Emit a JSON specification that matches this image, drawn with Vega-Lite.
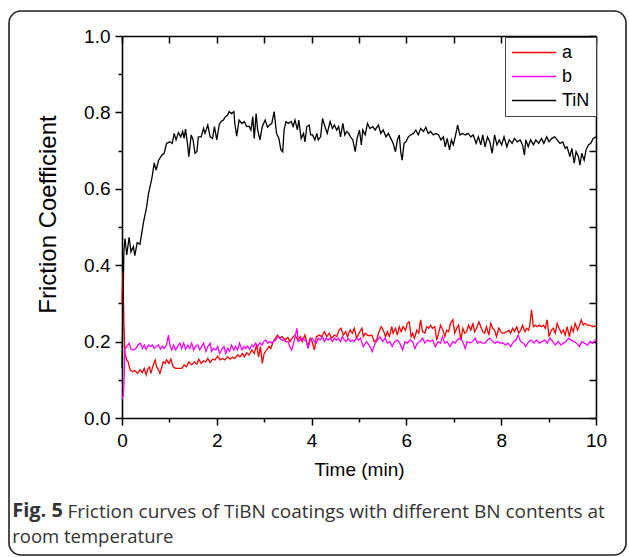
{
  "$schema": "https://vega.github.io/schema/vega-lite/v6.json",
  "width": 474,
  "height": 382,
  "autosize": "none",
  "padding": {"left": 122, "top": 36, "right": 33, "bottom": 139},
  "background": "white",
  "config": {"view": {"stroke": null}, "font": "Liberation Sans"},
  "title": {
    "text": "Fig. 5",
    "subtitle": "room temperature",
    "orient": "bottom",
    "anchor": "start",
    "frame": "bounds",
    "offset": -55,
    "dx": 4,
    "font": "Open Sans",
    "fontSize": 20,
    "fontWeight": "bold",
    "color": "#333",
    "subtitleFont": "Open Sans",
    "subtitleFontSize": 18.5,
    "subtitleColor": "#333",
    "subtitlePadding": 7
  },
  "datasets": {
    "tin": [
      {"t":0,"f":0.13},{"t":0.02,"f":0.30},{"t":0.04,"f":0.44},{"t":0.063,"f":0.47},{"t":0.1,"f":0.427},{"t":0.15,"f":0.473},{"t":0.19,"f":0.435},{"t":0.24,"f":0.449},{"t":0.27,"f":0.425},{"t":0.32,"f":0.459},{"t":0.38,"f":0.455},{"t":0.45,"f":0.51},{"t":0.52,"f":0.553},{"t":0.56,"f":0.588},{"t":0.63,"f":0.627},{"t":0.68,"f":0.668},{"t":0.72,"f":0.649},{"t":0.77,"f":0.674},{"t":0.84,"f":0.688},{"t":0.89,"f":0.693},{"t":0.94,"f":0.719},{"t":1.01,"f":0.723},{"t":1.06,"f":0.719},{"t":1.10,"f":0.745},{"t":1.14,"f":0.728},{"t":1.19,"f":0.747},{"t":1.24,"f":0.736},{"t":1.28,"f":0.75},{"t":1.31,"f":0.732},{"t":1.34,"f":0.756},{"t":1.39,"f":0.71},{"t":1.41,"f":0.684},{"t":1.46,"f":0.741},{"t":1.50,"f":0.728},{"t":1.54,"f":0.693},{"t":1.58,"f":0.697},{"t":1.61,"f":0.736},{"t":1.67,"f":0.736},{"t":1.72,"f":0.758},{"t":1.75,"f":0.745},{"t":1.81,"f":0.767},{"t":1.86,"f":0.736},{"t":1.91,"f":0.732},{"t":1.95,"f":0.763},{"t":2.0,"f":0.728},{"t":2.05,"f":0.767},{"t":2.09,"f":0.776},{"t":2.14,"f":0.78},{"t":2.17,"f":0.787},{"t":2.23,"f":0.793},{"t":2.26,"f":0.802},{"t":2.31,"f":0.797},{"t":2.36,"f":0.802},{"t":2.38,"f":0.771},{"t":2.42,"f":0.738},{"t":2.47,"f":0.78},{"t":2.53,"f":0.771},{"t":2.58,"f":0.776},{"t":2.63,"f":0.763},{"t":2.68,"f":0.764},{"t":2.72,"f":0.754},{"t":2.76,"f":0.789},{"t":2.79,"f":0.732},{"t":2.83,"f":0.797},{"t":2.86,"f":0.756},{"t":2.91,"f":0.728},{"t":2.96,"f":0.763},{"t":3.02,"f":0.78},{"t":3.07,"f":0.761},{"t":3.11,"f":0.767},{"t":3.16,"f":0.771},{"t":3.21,"f":0.802},{"t":3.26,"f":0.745},{"t":3.31,"f":0.732},{"t":3.35,"f":0.703},{"t":3.39,"f":0.697},{"t":3.42,"f":0.754},{"t":3.46,"f":0.776},{"t":3.51,"f":0.771},{"t":3.57,"f":0.776},{"t":3.61,"f":0.763},{"t":3.65,"f":0.78},{"t":3.70,"f":0.754},{"t":3.73,"f":0.78},{"t":3.78,"f":0.732},{"t":3.83,"f":0.745},{"t":3.86,"f":0.723},{"t":3.90,"f":0.763},{"t":3.95,"f":0.767},{"t":3.98,"f":0.741},{"t":4.02,"f":0.741},{"t":4.07,"f":0.728},{"t":4.11,"f":0.745},{"t":4.14,"f":0.728},{"t":4.19,"f":0.736},{"t":4.23,"f":0.784},{"t":4.28,"f":0.763},{"t":4.33,"f":0.745},{"t":4.39,"f":0.776},{"t":4.44,"f":0.758},{"t":4.48,"f":0.767},{"t":4.53,"f":0.754},{"t":4.57,"f":0.763},{"t":4.61,"f":0.736},{"t":4.66,"f":0.771},{"t":4.70,"f":0.741},{"t":4.74,"f":0.75},{"t":4.78,"f":0.745},{"t":4.82,"f":0.736},{"t":4.87,"f":0.728},{"t":4.92,"f":0.697},{"t":4.96,"f":0.732},{"t":5.01,"f":0.754},{"t":5.05,"f":0.715},{"t":5.08,"f":0.754},{"t":5.13,"f":0.741},{"t":5.18,"f":0.771},{"t":5.23,"f":0.758},{"t":5.29,"f":0.763},{"t":5.34,"f":0.754},{"t":5.41,"f":0.767},{"t":5.46,"f":0.745},{"t":5.51,"f":0.754},{"t":5.57,"f":0.736},{"t":5.62,"f":0.745},{"t":5.67,"f":0.732},{"t":5.72,"f":0.719},{"t":5.77,"f":0.697},{"t":5.81,"f":0.728},{"t":5.85,"f":0.741},{"t":5.88,"f":0.697},{"t":5.91,"f":0.675},{"t":5.95,"f":0.719},{"t":5.99,"f":0.723},{"t":6.04,"f":0.736},{"t":6.09,"f":0.741},{"t":6.15,"f":0.745},{"t":6.20,"f":0.754},{"t":6.25,"f":0.741},{"t":6.30,"f":0.758},{"t":6.36,"f":0.75},{"t":6.41,"f":0.761},{"t":6.46,"f":0.745},{"t":6.51,"f":0.75},{"t":6.57,"f":0.741},{"t":6.62,"f":0.745},{"t":6.68,"f":0.741},{"t":6.73,"f":0.728},{"t":6.78,"f":0.736},{"t":6.82,"f":0.71},{"t":6.86,"f":0.732},{"t":6.91,"f":0.702},{"t":6.95,"f":0.728},{"t":6.99,"f":0.715},{"t":7.03,"f":0.736},{"t":7.08,"f":0.767},{"t":7.13,"f":0.741},{"t":7.19,"f":0.745},{"t":7.24,"f":0.741},{"t":7.30,"f":0.745},{"t":7.36,"f":0.736},{"t":7.41,"f":0.741},{"t":7.47,"f":0.719},{"t":7.52,"f":0.736},{"t":7.57,"f":0.715},{"t":7.61,"f":0.741},{"t":7.66,"f":0.71},{"t":7.71,"f":0.736},{"t":7.76,"f":0.723},{"t":7.81,"f":0.693},{"t":7.86,"f":0.741},{"t":7.91,"f":0.715},{"t":7.96,"f":0.728},{"t":8.01,"f":0.715},{"t":8.06,"f":0.736},{"t":8.12,"f":0.71},{"t":8.17,"f":0.728},{"t":8.23,"f":0.719},{"t":8.28,"f":0.732},{"t":8.34,"f":0.723},{"t":8.40,"f":0.728},{"t":8.45,"f":0.715},{"t":8.49,"f":0.688},{"t":8.52,"f":0.728},{"t":8.57,"f":0.71},{"t":8.62,"f":0.728},{"t":8.68,"f":0.715},{"t":8.73,"f":0.728},{"t":8.79,"f":0.719},{"t":8.85,"f":0.732},{"t":8.90,"f":0.719},{"t":8.96,"f":0.736},{"t":9.01,"f":0.723},{"t":9.07,"f":0.732},{"t":9.13,"f":0.736},{"t":9.18,"f":0.728},{"t":9.24,"f":0.719},{"t":9.30,"f":0.723},{"t":9.35,"f":0.706},{"t":9.39,"f":0.71},{"t":9.45,"f":0.684},{"t":9.49,"f":0.706},{"t":9.54,"f":0.667},{"t":9.58,"f":0.697},{"t":9.63,"f":0.684},{"t":9.66,"f":0.662},{"t":9.70,"f":0.693},{"t":9.75,"f":0.675},{"t":9.79,"f":0.702},{"t":9.84,"f":0.715},{"t":9.89,"f":0.719},{"t":9.94,"f":0.732},{"t":10.0,"f":0.736}
    ],
    "a": [
      {"t":0,"f":0.30},{"t":0.02,"f":0.38},{"t":0.04,"f":0.25},{"t":0.06,"f":0.17},{"t":0.1,"f":0.152},{"t":0.13,"f":0.147},{"t":0.17,"f":0.126},{"t":0.22,"f":0.121},{"t":0.27,"f":0.124},{"t":0.33,"f":0.117},{"t":0.38,"f":0.126},{"t":0.43,"f":0.119},{"t":0.47,"f":0.13},{"t":0.51,"f":0.113},{"t":0.54,"f":0.127},{"t":0.58,"f":0.134},{"t":0.61,"f":0.117},{"t":0.66,"f":0.139},{"t":0.70,"f":0.152},{"t":0.73,"f":0.134},{"t":0.77,"f":0.126},{"t":0.80,"f":0.117},{"t":0.84,"f":0.134},{"t":0.87,"f":0.147},{"t":0.91,"f":0.143},{"t":0.94,"f":0.152},{"t":0.99,"f":0.143},{"t":1.03,"f":0.154},{"t":1.08,"f":0.134},{"t":1.13,"f":0.13},{"t":1.19,"f":0.13},{"t":1.26,"f":0.13},{"t":1.31,"f":0.139},{"t":1.36,"f":0.134},{"t":1.41,"f":0.147},{"t":1.47,"f":0.139},{"t":1.53,"f":0.147},{"t":1.58,"f":0.141},{"t":1.62,"f":0.154},{"t":1.67,"f":0.143},{"t":1.72,"f":0.15},{"t":1.77,"f":0.147},{"t":1.81,"f":0.156},{"t":1.86,"f":0.145},{"t":1.91,"f":0.154},{"t":1.96,"f":0.152},{"t":2.02,"f":0.162},{"t":2.07,"f":0.152},{"t":2.12,"f":0.156},{"t":2.17,"f":0.152},{"t":2.23,"f":0.16},{"t":2.28,"f":0.154},{"t":2.33,"f":0.159},{"t":2.38,"f":0.156},{"t":2.44,"f":0.165},{"t":2.49,"f":0.16},{"t":2.54,"f":0.169},{"t":2.58,"f":0.16},{"t":2.63,"f":0.171},{"t":2.68,"f":0.165},{"t":2.74,"f":0.178},{"t":2.79,"f":0.169},{"t":2.84,"f":0.191},{"t":2.88,"f":0.16},{"t":2.92,"f":0.187},{"t":2.96,"f":0.143},{"t":3.00,"f":0.169},{"t":3.05,"f":0.178},{"t":3.10,"f":0.187},{"t":3.14,"f":0.182},{"t":3.19,"f":0.2},{"t":3.24,"f":0.209},{"t":3.28,"f":0.217},{"t":3.33,"f":0.209},{"t":3.38,"f":0.213},{"t":3.44,"f":0.204},{"t":3.50,"f":0.211},{"t":3.54,"f":0.2},{"t":3.59,"f":0.209},{"t":3.65,"f":0.217},{"t":3.71,"f":0.204},{"t":3.76,"f":0.213},{"t":3.80,"f":0.2},{"t":3.86,"f":0.217},{"t":3.92,"f":0.187},{"t":3.97,"f":0.209},{"t":4.01,"f":0.2},{"t":4.06,"f":0.178},{"t":4.10,"f":0.213},{"t":4.16,"f":0.217},{"t":4.21,"f":0.213},{"t":4.27,"f":0.226},{"t":4.32,"f":0.213},{"t":4.37,"f":0.222},{"t":4.42,"f":0.209},{"t":4.48,"f":0.217},{"t":4.53,"f":0.213},{"t":4.58,"f":0.23},{"t":4.62,"f":0.235},{"t":4.67,"f":0.217},{"t":4.72,"f":0.226},{"t":4.76,"f":0.213},{"t":4.81,"f":0.23},{"t":4.86,"f":0.222},{"t":4.90,"f":0.235},{"t":4.95,"f":0.209},{"t":5.00,"f":0.222},{"t":5.06,"f":0.235},{"t":5.09,"f":0.213},{"t":5.13,"f":0.222},{"t":5.18,"f":0.217},{"t":5.22,"f":0.215},{"t":5.27,"f":0.217},{"t":5.32,"f":0.2},{"t":5.37,"f":0.204},{"t":5.42,"f":0.226},{"t":5.47,"f":0.239},{"t":5.51,"f":0.23},{"t":5.56,"f":0.213},{"t":5.60,"f":0.226},{"t":5.64,"f":0.213},{"t":5.69,"f":0.239},{"t":5.72,"f":0.222},{"t":5.77,"f":0.235},{"t":5.81,"f":0.217},{"t":5.85,"f":0.239},{"t":5.89,"f":0.226},{"t":5.93,"f":0.239},{"t":5.98,"f":0.23},{"t":6.02,"f":0.248},{"t":6.06,"f":0.252},{"t":6.10,"f":0.213},{"t":6.13,"f":0.222},{"t":6.17,"f":0.209},{"t":6.22,"f":0.23},{"t":6.26,"f":0.222},{"t":6.30,"f":0.257},{"t":6.34,"f":0.226},{"t":6.39,"f":0.222},{"t":6.43,"f":0.239},{"t":6.47,"f":0.235},{"t":6.51,"f":0.243},{"t":6.55,"f":0.235},{"t":6.60,"f":0.239},{"t":6.64,"f":0.204},{"t":6.68,"f":0.222},{"t":6.72,"f":0.243},{"t":6.77,"f":0.23},{"t":6.81,"f":0.213},{"t":6.85,"f":0.23},{"t":6.89,"f":0.226},{"t":6.93,"f":0.248},{"t":6.98,"f":0.257},{"t":7.02,"f":0.222},{"t":7.06,"f":0.235},{"t":7.10,"f":0.243},{"t":7.15,"f":0.204},{"t":7.19,"f":0.235},{"t":7.23,"f":0.222},{"t":7.27,"f":0.226},{"t":7.31,"f":0.243},{"t":7.36,"f":0.23},{"t":7.40,"f":0.248},{"t":7.44,"f":0.226},{"t":7.48,"f":0.235},{"t":7.53,"f":0.252},{"t":7.57,"f":0.239},{"t":7.61,"f":0.226},{"t":7.65,"f":0.222},{"t":7.69,"f":0.239},{"t":7.74,"f":0.217},{"t":7.78,"f":0.248},{"t":7.82,"f":0.235},{"t":7.86,"f":0.23},{"t":7.90,"f":0.213},{"t":7.95,"f":0.235},{"t":7.99,"f":0.226},{"t":8.03,"f":0.222},{"t":8.07,"f":0.223},{"t":8.12,"f":0.226},{"t":8.16,"f":0.23},{"t":8.20,"f":0.222},{"t":8.24,"f":0.235},{"t":8.28,"f":0.226},{"t":8.33,"f":0.239},{"t":8.37,"f":0.222},{"t":8.41,"f":0.23},{"t":8.45,"f":0.243},{"t":8.50,"f":0.226},{"t":8.54,"f":0.235},{"t":8.58,"f":0.23},{"t":8.61,"f":0.248},{"t":8.64,"f":0.283},{"t":8.68,"f":0.239},{"t":8.72,"f":0.243},{"t":8.76,"f":0.239},{"t":8.80,"f":0.243},{"t":8.85,"f":0.239},{"t":8.89,"f":0.243},{"t":8.93,"f":0.235},{"t":8.97,"f":0.257},{"t":9.01,"f":0.213},{"t":9.06,"f":0.23},{"t":9.10,"f":0.235},{"t":9.14,"f":0.222},{"t":9.18,"f":0.248},{"t":9.22,"f":0.235},{"t":9.27,"f":0.222},{"t":9.31,"f":0.23},{"t":9.35,"f":0.217},{"t":9.39,"f":0.239},{"t":9.44,"f":0.213},{"t":9.48,"f":0.239},{"t":9.52,"f":0.226},{"t":9.56,"f":0.248},{"t":9.61,"f":0.23},{"t":9.65,"f":0.243},{"t":9.69,"f":0.257},{"t":9.73,"f":0.243},{"t":9.77,"f":0.248},{"t":9.82,"f":0.243},{"t":9.86,"f":0.243},{"t":9.90,"f":0.241},{"t":9.94,"f":0.239},{"t":10.0,"f":0.241}
    ],
    "b": [
      {"t":0,"f":0.05},{"t":0.03,"f":0.06},{"t":0.05,"f":0.12},{"t":0.06,"f":0.182},{"t":0.1,"f":0.187},{"t":0.15,"f":0.196},{"t":0.19,"f":0.18},{"t":0.24,"f":0.178},{"t":0.29,"f":0.182},{"t":0.34,"f":0.191},{"t":0.39,"f":0.196},{"t":0.43,"f":0.182},{"t":0.47,"f":0.191},{"t":0.51,"f":0.18},{"t":0.56,"f":0.191},{"t":0.60,"f":0.187},{"t":0.64,"f":0.191},{"t":0.68,"f":0.182},{"t":0.72,"f":0.187},{"t":0.77,"f":0.191},{"t":0.81,"f":0.18},{"t":0.85,"f":0.188},{"t":0.89,"f":0.182},{"t":0.94,"f":0.191},{"t":0.98,"f":0.217},{"t":1.01,"f":0.191},{"t":1.05,"f":0.178},{"t":1.09,"f":0.191},{"t":1.13,"f":0.178},{"t":1.17,"f":0.187},{"t":1.22,"f":0.196},{"t":1.26,"f":0.182},{"t":1.30,"f":0.196},{"t":1.34,"f":0.18},{"t":1.39,"f":0.191},{"t":1.43,"f":0.182},{"t":1.47,"f":0.196},{"t":1.51,"f":0.178},{"t":1.55,"f":0.187},{"t":1.60,"f":0.191},{"t":1.64,"f":0.178},{"t":1.68,"f":0.187},{"t":1.72,"f":0.196},{"t":1.77,"f":0.174},{"t":1.81,"f":0.187},{"t":1.86,"f":0.196},{"t":1.89,"f":0.174},{"t":1.93,"f":0.182},{"t":1.98,"f":0.178},{"t":2.02,"f":0.187},{"t":2.06,"f":0.169},{"t":2.10,"f":0.178},{"t":2.15,"f":0.187},{"t":2.19,"f":0.169},{"t":2.23,"f":0.182},{"t":2.27,"f":0.174},{"t":2.31,"f":0.191},{"t":2.36,"f":0.178},{"t":2.40,"f":0.188},{"t":2.44,"f":0.178},{"t":2.48,"f":0.196},{"t":2.53,"f":0.178},{"t":2.57,"f":0.187},{"t":2.61,"f":0.182},{"t":2.65,"f":0.188},{"t":2.69,"f":0.18},{"t":2.74,"f":0.191},{"t":2.78,"f":0.187},{"t":2.82,"f":0.196},{"t":2.86,"f":0.187},{"t":2.91,"f":0.197},{"t":2.95,"f":0.191},{"t":2.99,"f":0.2},{"t":3.03,"f":0.204},{"t":3.07,"f":0.196},{"t":3.12,"f":0.2},{"t":3.16,"f":0.196},{"t":3.20,"f":0.2},{"t":3.24,"f":0.204},{"t":3.28,"f":0.213},{"t":3.33,"f":0.209},{"t":3.37,"f":0.204},{"t":3.41,"f":0.204},{"t":3.45,"f":0.2},{"t":3.50,"f":0.2},{"t":3.54,"f":0.187},{"t":3.58,"f":0.178},{"t":3.62,"f":0.196},{"t":3.66,"f":0.217},{"t":3.69,"f":0.235},{"t":3.72,"f":0.2},{"t":3.76,"f":0.204},{"t":3.80,"f":0.209},{"t":3.85,"f":0.204},{"t":3.89,"f":0.2},{"t":3.93,"f":0.182},{"t":3.97,"f":0.204},{"t":4.01,"f":0.209},{"t":4.06,"f":0.2},{"t":4.10,"f":0.196},{"t":4.14,"f":0.209},{"t":4.18,"f":0.204},{"t":4.23,"f":0.213},{"t":4.27,"f":0.2},{"t":4.31,"f":0.209},{"t":4.35,"f":0.204},{"t":4.39,"f":0.209},{"t":4.44,"f":0.2},{"t":4.48,"f":0.209},{"t":4.52,"f":0.204},{"t":4.56,"f":0.209},{"t":4.61,"f":0.2},{"t":4.65,"f":0.213},{"t":4.69,"f":0.204},{"t":4.73,"f":0.2},{"t":4.77,"f":0.209},{"t":4.82,"f":0.2},{"t":4.86,"f":0.204},{"t":4.90,"f":0.2},{"t":4.94,"f":0.209},{"t":4.99,"f":0.204},{"t":5.03,"f":0.209},{"t":5.09,"f":0.187},{"t":5.16,"f":0.2},{"t":5.23,"f":0.187},{"t":5.28,"f":0.174},{"t":5.34,"f":0.196},{"t":5.39,"f":0.204},{"t":5.44,"f":0.213},{"t":5.50,"f":0.2},{"t":5.55,"f":0.209},{"t":5.60,"f":0.196},{"t":5.65,"f":0.2},{"t":5.70,"f":0.187},{"t":5.75,"f":0.2},{"t":5.81,"f":0.204},{"t":5.86,"f":0.196},{"t":5.92,"f":0.178},{"t":5.97,"f":0.2},{"t":6.02,"f":0.196},{"t":6.08,"f":0.204},{"t":6.13,"f":0.2},{"t":6.18,"f":0.182},{"t":6.23,"f":0.196},{"t":6.29,"f":0.2},{"t":6.34,"f":0.209},{"t":6.39,"f":0.196},{"t":6.44,"f":0.204},{"t":6.50,"f":0.2},{"t":6.55,"f":0.204},{"t":6.61,"f":0.187},{"t":6.67,"f":0.2},{"t":6.72,"f":0.196},{"t":6.76,"f":0.213},{"t":6.81,"f":0.196},{"t":6.86,"f":0.2},{"t":6.92,"f":0.187},{"t":6.98,"f":0.2},{"t":7.03,"f":0.196},{"t":7.07,"f":0.204},{"t":7.13,"f":0.209},{"t":7.19,"f":0.2},{"t":7.24,"f":0.182},{"t":7.28,"f":0.2},{"t":7.34,"f":0.196},{"t":7.40,"f":0.2},{"t":7.45,"f":0.209},{"t":7.50,"f":0.196},{"t":7.55,"f":0.2},{"t":7.61,"f":0.196},{"t":7.66,"f":0.196},{"t":7.71,"f":0.204},{"t":7.76,"f":0.209},{"t":7.82,"f":0.2},{"t":7.87,"f":0.196},{"t":7.92,"f":0.2},{"t":7.97,"f":0.196},{"t":8.03,"f":0.197},{"t":8.09,"f":0.191},{"t":8.14,"f":0.196},{"t":8.20,"f":0.187},{"t":8.26,"f":0.2},{"t":8.31,"f":0.204},{"t":8.36,"f":0.217},{"t":8.41,"f":0.2},{"t":8.47,"f":0.196},{"t":8.52,"f":0.187},{"t":8.58,"f":0.2},{"t":8.63,"f":0.204},{"t":8.69,"f":0.196},{"t":8.75,"f":0.204},{"t":8.80,"f":0.196},{"t":8.86,"f":0.2},{"t":8.92,"f":0.204},{"t":8.97,"f":0.196},{"t":9.03,"f":0.209},{"t":9.09,"f":0.2},{"t":9.14,"f":0.191},{"t":9.20,"f":0.2},{"t":9.26,"f":0.191},{"t":9.31,"f":0.196},{"t":9.37,"f":0.2},{"t":9.42,"f":0.209},{"t":9.48,"f":0.204},{"t":9.54,"f":0.2},{"t":9.59,"f":0.196},{"t":9.65,"f":0.187},{"t":9.70,"f":0.2},{"t":9.76,"f":0.196},{"t":9.82,"f":0.191},{"t":9.87,"f":0.2},{"t":9.93,"f":0.196},{"t":10.0,"f":0.206}
    ]
  },
  "layer": [
    {
      "data": {"values": [{}]},
      "mark": {"type": "rect", "filled": false, "color": "#222", "strokeWidth": 1.6, "cornerRadius": 12},
      "encoding": {
        "x": {"datum": -2.384, "type": "quantitative", "scale": {"domain": [0, 10]},
          "axis": {"orient": "bottom", "values": [], "domain": false, "ticks": false, "labels": false, "grid": false,
            "title": "Friction curves of TiBN coatings with different BN contents at", "titleFont": "Open Sans", "titleFontSize": 19, "titleFontWeight": "normal", "titleColor": "#333",
            "titleX": -55, "titleY": 99, "titleAlign": "left", "titleAnchor": null, "titleBaseline": "alphabetic", "titleAngle": 0}},
        "x2": {"datum": 10.633},
        "y": {"datum": 1.0654, "type": "quantitative", "scale": {"domain": [0, 1]}, "axis": null},
        "y2": {"datum": -0.3586}
      }
    },
    {
      "data": {"name": "a"},
      "transform": [{"calculate": "'a'", "as": "s"}],
      "mark": {"type": "line", "strokeWidth": 1.3},
      "encoding": {
        "x": {"field": "t", "type": "quantitative", "scale": {"domain": [0, 10]},
          "axis": {"orient": "bottom", "values": [0,1,2,3,4,5,6,7,8,9,10], "labelExpr": "datum.value % 2 == 0 ? datum.label : ''", "format": "d", "grid": false,
            "domainColor": "black", "domainWidth": 1.6, "tickColor": "black", "tickWidth": 1.5,
            "tickSize": {"condition": {"test": "datum.value % 2 != 0", "value": 4}, "value": 7},
            "labelFont": "Liberation Sans", "labelFontSize": 19, "labelColor": "black", "labelPadding": 6, "labelFlush": false, "labelOverlap": false,
            "title": "Time (min)", "titleFont": "Liberation Sans", "titleFontSize": 19, "titleFontWeight": "normal", "titleColor": "black", "titlePadding": 10}},
        "y": {"field": "f", "type": "quantitative", "scale": {"domain": [0, 1]},
          "axis": {"orient": "left", "values": [0,0.1,0.2,0.3,0.4,0.5,0.6,0.7,0.8,0.9,1.0], "labelExpr": "round(datum.value*10) % 2 == 0 ? format(datum.value, '.1f') : ''", "grid": false,
            "domainColor": "black", "domainWidth": 1.6, "tickColor": "black", "tickWidth": 1.5,
            "tickSize": {"condition": {"test": "round(datum.value*10) % 2 != 0", "value": 4}, "value": 7},
            "labelFont": "Liberation Sans", "labelFontSize": 19, "labelColor": "black", "labelPadding": 5, "labelFlush": false, "labelOverlap": false,
            "title": "Friction Coefficient", "titleFont": "Liberation Sans", "titleFontSize": 24, "titleFontWeight": "normal", "titleColor": "black",
            "titleX": -67, "titleY": 178, "titleBaseline": "alphabetic", "titleAngle": -90, "titleAlign": "center"}},
        "color": {"field": "s", "type": "nominal",
          "scale": {"domain": ["a", "b", "TiN"], "range": ["#ff0000", "#ff00ff", "#000000"]},
          "legend": {"orient": "none", "legendX": 383, "legendY": 1, "title": null, "strokeColor": "#444", "fillColor": "white", "padding": 6,
            "symbolType": "M-2.6,0H2.6", "symbolSize": 289, "symbolOffset": 13.6, "symbolStrokeWidth": 1.5,
            "labelFont": "Liberation Sans", "labelFontSize": 18, "labelColor": "black", "labelOffset": 18.4, "rowPadding": 5}}
      }
    },
    {
      "data": {"name": "b"},
      "transform": [{"calculate": "'b'", "as": "s"}],
      "mark": {"type": "line", "strokeWidth": 1.3},
      "encoding": {
        "x": {"field": "t", "type": "quantitative", "scale": {"domain": [0, 10]},
          "axis": {"orient": "bottom", "offset": -382, "values": [0,1,2,3,4,5,6,7,8,9,10], "labels": false, "tickSize": 7, "title": null, "grid": false,
            "domainColor": "black", "domainWidth": 1.6, "tickColor": "black", "tickWidth": 1.5}},
        "y": {"field": "f", "type": "quantitative", "scale": {"domain": [0, 1]},
          "axis": {"orient": "left", "offset": -474, "values": [0,0.1,0.2,0.3,0.4,0.5,0.6,0.7,0.8,0.9,1.0], "labels": false, "tickSize": 7, "title": null, "grid": false,
            "domainColor": "black", "domainWidth": 1.6, "tickColor": "black", "tickWidth": 1.5}},
        "color": {"field": "s", "type": "nominal"}
      }
    },
    {
      "data": {"name": "tin"},
      "transform": [{"calculate": "'TiN'", "as": "s"}],
      "mark": {"type": "line", "strokeWidth": 1.3},
      "encoding": {
        "x": {"field": "t", "type": "quantitative", "scale": {"domain": [0, 10]}, "axis": null},
        "y": {"field": "f", "type": "quantitative", "scale": {"domain": [0, 1]}, "axis": null},
        "color": {"field": "s", "type": "nominal"}
      }
    }
  ],
  "resolve": {"axis": {"x": "independent", "y": "independent"}}
}
